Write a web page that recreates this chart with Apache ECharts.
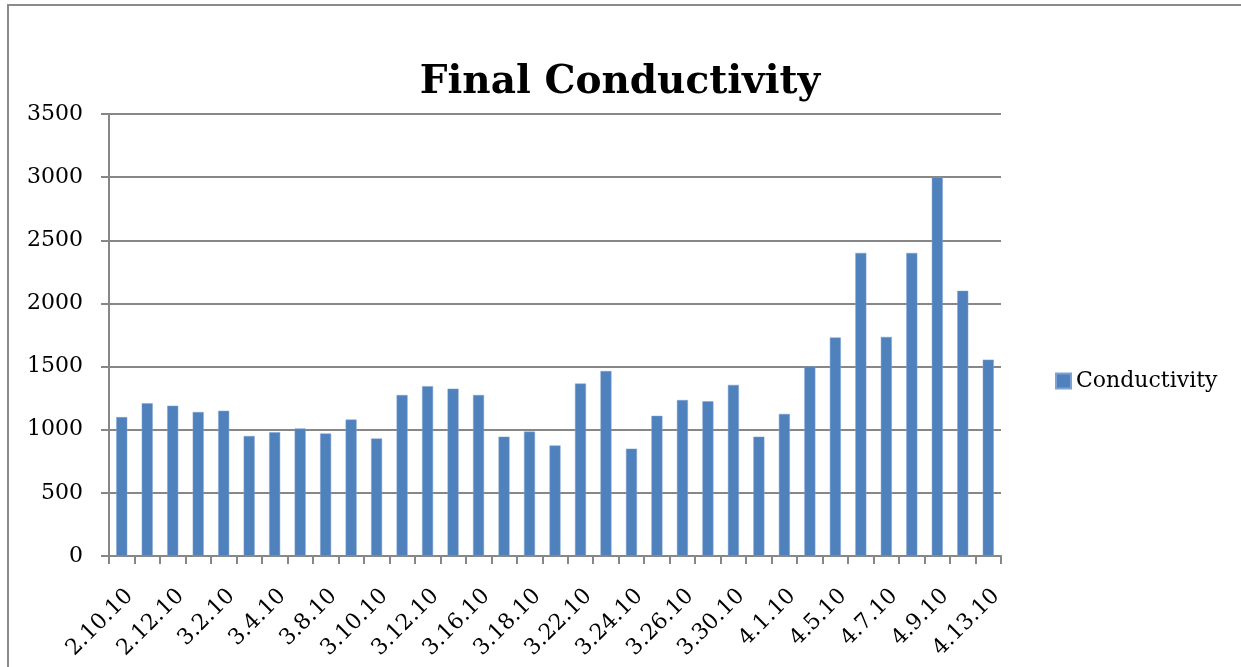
<!DOCTYPE html>
<html>
<head>
<meta charset="utf-8">
<title>Final Conductivity</title>
<script src="https://cdn.jsdelivr.net/npm/echarts@6/dist/echarts.min.js"></script>
<style>
  html, body { margin: 0; padding: 0; background: #fff; }
  #chart { width: 1241px; height: 667px; }
</style>
</head>
<body>
<div id="chart"></div>
<script>
// dates (every other one is labelled on the axis)
var dates = [
  '2.10.10', '2.11.10', '2.12.10', '3.1.10', '3.2.10', '3.3.10', '3.4.10', '3.5.10',
  '3.8.10', '3.9.10', '3.10.10', '3.11.10', '3.12.10', '3.15.10', '3.16.10', '3.17.10',
  '3.18.10', '3.19.10', '3.22.10', '3.23.10', '3.24.10', '3.25.10', '3.26.10', '3.29.10',
  '3.30.10', '3.31.10', '4.1.10', '4.2.10', '4.5.10', '4.6.10', '4.7.10', '4.8.10',
  '4.9.10', '4.12.10', '4.13.10'
]
var conductivity = [
  1100, 1210, 1190, 1140, 1150, 950, 980, 1010,
  970, 1080, 930, 1275, 1345, 1325, 1275, 945,
  985, 875, 1365, 1465, 850, 1110, 1235, 1225,
  1355, 945, 1125, 1500, 1730, 2400, 1735, 2400,
  3000, 2100, 1555
]
var yTicks = { min: 0, max: 3500, step: 500 }

var chart = echarts.init(document.getElementById('chart'))
var gray = '#878787'
var labelFont = 'DejaVu Serif'

chart.setOption({
  animation: false,
  backgroundColor: '#fff',
  graphic: [
    {
      type: 'rect',
      shape: { x: 8, y: 5, width: 1300, height: 700 },
      style: { fill: 'none', stroke: '#8a8a8a', lineWidth: 2 },
      silent: true
    }
  ],
  title: {
    text: 'Final Conductivity',
    left: 615,
    top: 58,
    textAlign: 'center',
    textStyle: {
      fontFamily: labelFont,
      fontWeight: 'bold',
      fontSize: 39,
      color: '#000'
    }
  },
  legend: {
    data: ['Conductivity'],
    orient: 'vertical',
    left: 1050,
    top: 365,
    itemWidth: 15,
    itemHeight: 15,
    itemGap: 10,
    icon: 'rect',
    textStyle: {
      fontFamily: labelFont,
      fontSize: 22,
      color: '#000'
    }
  },
  grid: {
    left: 109,
    top: 114,
    width: 892,
    height: 442,
    containLabel: false,
    outerBoundsMode: 'none'
  },
  xAxis: {
    type: 'category',
    data: dates,
    boundaryGap: true,
    axisLine: { lineStyle: { color: gray, width: 2 } },
    axisTick: {
      show: true,
      alignWithLabel: false,
      interval: 0,
      length: 8,
      lineStyle: { color: gray, width: 2 }
    },
    axisLabel: {
      interval: 1,
      rotate: 45,
      margin: 29,
      padding: [0, 0, 0, 0],
      fontFamily: labelFont,
      fontSize: 22,
      lineHeight: 22,
      color: '#000',
      verticalAlign: 'top'
    },
    splitLine: { show: false }
  },
  yAxis: {
    type: 'value',
    min: yTicks.min,
    max: yTicks.max,
    interval: yTicks.step,
    axisLine: { show: true, lineStyle: { color: gray, width: 2 } },
    axisTick: { show: true, length: 8, lineStyle: { color: gray, width: 2 } },
    axisLabel: {
      margin: 26,
      fontFamily: labelFont,
      fontSize: 22,
      color: '#000',
      formatter: function(v) {
        return String(v)
      }
    },
    splitLine: { show: true, lineStyle: { color: gray, width: 2 } }
  },
  series: [
    {
      name: 'Conductivity',
      type: 'bar',
      data: conductivity,
      barWidth: 11,
      itemStyle: {
        color: '#4F81BD',
        borderColor: '#7fa3d1',
        borderWidth: 0.5
      }
    }
  ]
})
</script>
</body>
</html>
